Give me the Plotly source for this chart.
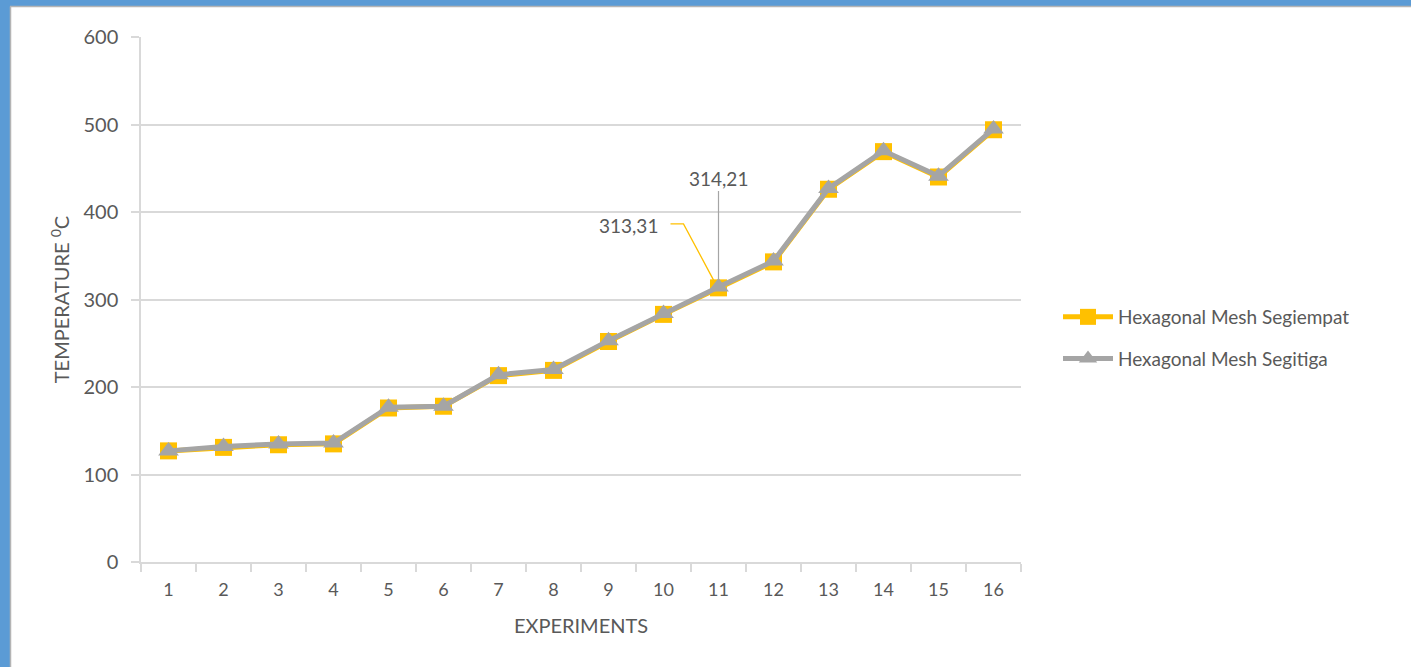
import plotly.graph_objects as go

# Experiment numbers and measured temperatures (°C)
experiments = [str(i) for i in range(1, 17)]
segiempat = [127, 131, 134, 135, 176, 178, 213, 219, 252, 283, 313.31, 343, 426, 469, 440, 494]
segitiga = [127, 132, 135, 136, 177, 178, 214, 220, 253, 284, 314.21, 344, 427, 470, 441, 495]

y_ticks = [0, 100, 200, 300, 400, 500, 600]

# Canvas / plot-area geometry
W, H = 1411, 667
ML, MR, MT, MB = 141, 390, 37, 105
PW, PH = W - ML - MR, H - MT - MB

FONT = "Lato"
TXT = "#595959"
GRID = "#D9D9D9"
YELLOW = "#FFC000"
GRAY = "#A5A5A5"

fig = go.Figure()

fig.add_trace(go.Scatter(
    x=experiments, y=segiempat, name="Hexagonal Mesh Segiempat",
    mode="lines+markers", legendgroup="a",
    line=dict(color=YELLOW, width=5),
    marker=dict(symbol="square", size=17, color=YELLOW),
))
fig.add_trace(go.Scatter(
    x=experiments, y=segitiga, name="Hexagonal Mesh Segitiga",
    mode="lines+markers", legendgroup="b",
    line=dict(color=GRAY, width=5),
    marker=dict(symbol="triangle-up", size=18, color=GRAY),
))

# Data labels for experiment 11 (category index on the x axis)
i11 = experiments.index("11")
fig.add_annotation(
    x=i11, y=segitiga[i11], xref="x", yref="y",
    text=f"{segitiga[i11]:.2f}".replace(".", ","),
    showarrow=True, arrowhead=0, arrowwidth=1.2, arrowcolor=GRAY,
    ax=0, ay=-109, standoff=6,
    font=dict(family=FONT, size=19, color=TXT),
)
fig.add_annotation(
    x=i11, y=segiempat[i11], xref="x", yref="y",
    text=f"{segiempat[i11]:.2f}".replace(".", ","),
    showarrow=False, xshift=-90, yshift=62,
    font=dict(family=FONT, size=19, color=TXT),
)
# bent leader line for the 313,31 label
fig.add_shape(
    type="path", xref="x", yref="y",
    xsizemode="pixel", ysizemode="pixel",
    xanchor=i11, yanchor=segiempat[i11],
    path="M-48,64 L-35,64 L-4,6",
    line=dict(color=YELLOW, width=1.3),
)

# Frame along the left and top edges of the page
px = lambda p: (p - ML) / PW
py = lambda p: (H - MB - p) / PH
fig.add_shape(type="rect", xref="paper", yref="paper", layer="below",
              x0=px(0), x1=px(10), y0=py(H), y1=py(0),
              fillcolor="#5B9BD5", line_width=0)
fig.add_shape(type="rect", xref="paper", yref="paper", layer="below",
              x0=px(0), x1=px(W), y0=py(6), y1=py(0),
              fillcolor="#5B9BD5", line_width=0)
fig.add_shape(type="line", xref="paper", yref="paper", layer="below",
              x0=px(10.5), x1=px(10.5), y0=py(H), y1=py(6.5),
              line=dict(color="#B4B4B4", width=1.5))
fig.add_shape(type="line", xref="paper", yref="paper", layer="below",
              x0=px(10), x1=px(W), y0=py(6.5), y1=py(6.5),
              line=dict(color="#B4B4B4", width=1.5))

fig.update_layout(
    width=W, height=H,
    margin=dict(l=ML, r=MR, t=MT, b=MB, pad=0),
    paper_bgcolor="white", plot_bgcolor="white",
    font=dict(family=FONT, color=TXT),
    showlegend=True,
    legend=dict(
        x=(1058 - ML) / PW, xanchor="left",
        y=py(338), yanchor="middle",
        font=dict(family=FONT, size=19, color=TXT),
        tracegroupgap=14, itemwidth=50,
        bgcolor="rgba(0,0,0,0)",
    ),
    xaxis=dict(
        type="category", tickson="boundaries",
        range=[-0.5, len(experiments) - 0.5], autorange=False,
        ticks="outside", ticklen=8, tickcolor=GRID, tickwidth=1.5,
        showline=True, linecolor=GRID, linewidth=1.5,
        showgrid=False,
        tickfont=dict(family=FONT, size=18, color=TXT),
        ticklabelstandoff=11,
        title=dict(text="EXPERIMENTS", font=dict(family=FONT, size=20, color=TXT), standoff=20),
    ),
    yaxis=dict(
        range=[0, 600], tickvals=y_ticks, autorange=False,
        ticks="outside", ticklen=8, tickcolor=GRID, tickwidth=1.5,
        showline=True, linecolor=GRID, linewidth=1.5,
        showgrid=True, gridcolor=GRID, gridwidth=1.5,
        zeroline=False,
        tickfont=dict(family=FONT, size=20, color=TXT),
        ticklabelstandoff=9,
        title=dict(text="TEMPERATURE <sup>0</sup>C", font=dict(family=FONT, size=20, color=TXT), standoff=8),
    ),
)

fig.write_html("out.html", config={"displayModeBar": False})
